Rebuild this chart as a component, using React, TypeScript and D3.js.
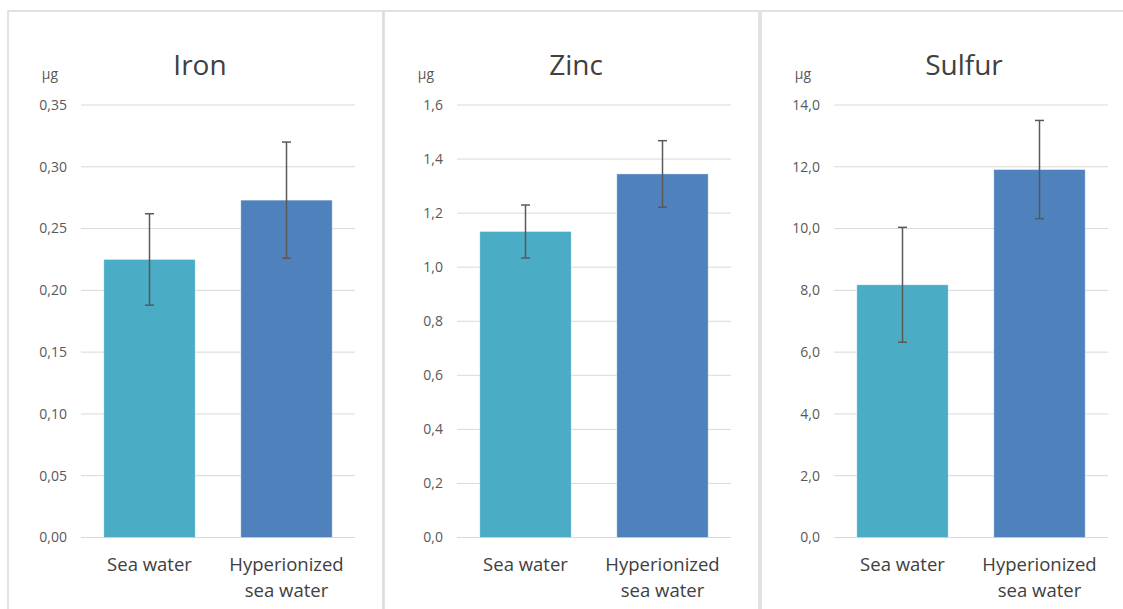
import React from 'react';
import * as d3 from 'd3';

// categories (second one wraps onto two lines like the original)
const categories = ['Sea water', 'Hyperionized sea water'];
const categoryLines = [['Sea water'], ['Hyperionized', 'sea water']];

// means and error bar half-widths (µg)
const ironMeans = [0.225, 0.273];
const ironErrors = [0.037, 0.047];
const zincMeans = [1.132, 1.345];
const zincErrors = [0.098, 0.123];
const sulfurMeans = [8.18, 11.91];
const sulfurErrors = [1.86, 1.59];

// y axis ticks
const ironTicks = [0, 0.05, 0.1, 0.15, 0.2, 0.25, 0.3, 0.35];
const zincTicks = [0, 0.2, 0.4, 0.6, 0.8, 1.0, 1.2, 1.4, 1.6];
const sulfurTicks = [0, 2, 4, 6, 8, 10, 12, 14];

const barColors = ['#4bacc6', '#4f81bd'];

const W = 1123;
const H = 609;
const plotTop = 105;
const plotBottom = 537.5;

// comma decimal separator
const locale = d3.formatLocale({ decimal: ',', thousands: '.', grouping: [3], currency: ['', ''] });

const panels = [
  { title: 'Iron', means: ironMeans, errors: ironErrors, ticks: ironTicks, digits: 2, left: 8, titleShift: -18 },
  { title: 'Zinc', means: zincMeans, errors: zincErrors, ticks: zincTicks, digits: 1, left: 384, titleShift: -18 },
  { title: 'Sulfur', means: sulfurMeans, errors: sulfurErrors, ticks: sulfurTicks, digits: 1, left: 761, titleShift: -7 },
];

const font = '"Open Sans", "Noto Sans", sans-serif';

const Panel = ({ p }: { p: (typeof panels)[number] }) => {
  const plotLeft = p.left + 73;
  const plotRight = plotLeft + 274;

  const x = d3.scaleBand<string>()
    .domain(categories)
    .range([plotLeft, plotRight])
    .paddingInner(1 / 3)
    .paddingOuter(1 / 6);

  const y = d3.scaleLinear()
    .domain([0, p.ticks[p.ticks.length - 1]])
    .range([plotBottom, plotTop]);

  const fmt = locale.format(`.${p.digits}f`);
  const cx = (c: string) => (x(c) ?? 0) + x.bandwidth() / 2;

  return (
    <g>
      {/* chart area border */}
      <rect x={p.left} y={11} width={375} height={640} fill="#fff" stroke="#d9d9d9" strokeWidth={1.5} />

      {/* title */}
      <text x={(plotLeft + plotRight) / 2 + p.titleShift} y={75} textAnchor="middle"
        fontFamily={font} fontSize={28} fill="#404040">{p.title}</text>

      {/* unit */}
      <text x={plotLeft - 31} y={79} textAnchor="middle" fontFamily={font} fontSize={14} fill="#595959">μg</text>

      {/* gridlines + tick labels */}
      {p.ticks.map((t) => (
        <g key={t}>
          <line x1={plotLeft} x2={plotRight} y1={y(t)} y2={y(t)} stroke="#d9d9d9" strokeWidth={1} />
          <text x={plotLeft - 14} y={y(t)} dy="0.35em" textAnchor="end"
            fontFamily={font} fontSize={14} fill="#595959">{fmt(t)}</text>
        </g>
      ))}

      {/* bars */}
      {categories.map((c, i) => (
        <rect key={c} x={x(c)} y={y(p.means[i])} width={x.bandwidth()}
          height={plotBottom - y(p.means[i])} fill={barColors[i]}
          stroke="#ffffff" strokeOpacity={0.45} strokeWidth={0.75} />
      ))}

      {/* error bars */}
      {categories.map((c, i) => {
        const hi = y(p.means[i] + p.errors[i]);
        const lo = y(p.means[i] - p.errors[i]);
        const mx = cx(c);
        return (
          <g key={c} stroke="#595959" strokeWidth={1.5}>
            <line x1={mx} x2={mx} y1={hi} y2={lo} />
            <line x1={mx - 4.5} x2={mx + 4.5} y1={hi} y2={hi} />
            <line x1={mx - 4.5} x2={mx + 4.5} y1={lo} y2={lo} />
          </g>
        );
      })}

      {/* category labels */}
      {categories.map((c, i) => (
        <text key={c} x={cx(c)} y={570.5} textAnchor="middle" fontFamily={font} fontSize={18.5} fill="#404040">
          {categoryLines[i].map((l, k) => (
            <tspan key={k} x={cx(c)} dy={k === 0 ? 0 : 26}>{l}</tspan>
          ))}
        </text>
      ))}
    </g>
  );
};

const App = () => (
  <svg width={W} height={H} style={{ position: 'absolute', left: 0, top: 0, background: '#fff' }}>
    <rect x={0} y={0} width={W} height={H} fill="#fff" />
    {panels.map((p) => <Panel key={p.title} p={p} />)}
  </svg>
);

export default App;
